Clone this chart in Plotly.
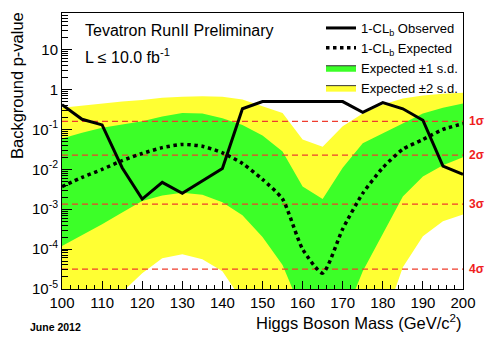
import math
import plotly.graph_objects as go

# Higgs mass points (GeV/c^2)
mass = [100, 105, 110, 115, 120, 125, 130, 135, 140, 145, 150,
        155, 160, 165, 170, 175, 180, 185, 190, 195, 200]

# 1-CLb observed
obs_p = [0.42, 0.18, 0.13, 0.011, 0.0018, 0.0047, 0.0025, 0.005, 0.0105, 0.33, 0.5,
         0.5, 0.5, 0.5, 0.5, 0.27, 0.47, 0.33, 0.17, 0.012, 0.0075]

# 1-CLb expected (median)
exp_p = [3.7e-3, 6.3e-3, 1.0e-2, 1.66e-2, 2.5e-2, 3.5e-2, 4.2e-2, 3.8e-2, 2.6e-2, 1.4e-2, 5.6e-3,
         1.8e-3, 1.0e-4, 2.5e-5, 3.2e-4, 2.5e-3, 1.1e-2, 3.2e-2, 5.6e-2, 0.1, 0.14]

# expected +-1 s.d. band
band1_hi = [0.059, 0.083, 0.11, 0.13, 0.16, 0.21, 0.26, 0.25, 0.19, 0.13, 0.071,
            0.028, 3.7e-3, 1.8e-3, 0.011, 0.045, 0.079, 0.14, 0.25, 0.35, 0.45]
band1_lo = [1.2e-4, 2.2e-4, 4.2e-4, 8.3e-4, 1.6e-3, 2.2e-3, 2.6e-3, 2.3e-3, 1.5e-3, 7.1e-4, 2.0e-4,
            4.0e-5, 2.5e-6, 3e-7, 1.6e-6, 2.8e-5, 2.5e-4, 2.1e-3, 6.6e-3, 0.0126, 0.02]

# expected +-2 s.d. band
band2_hi = [0.35, 0.4, 0.45, 0.5, 0.55, 0.62, 0.66, 0.68, 0.66, 0.56, 0.38,
            0.26, 0.056, 0.037, 0.12, 0.25, 0.42, 0.6, 0.71, 0.79, 0.83]
band2_lo = [1e-6, 1.6e-6, 3.2e-6, 8.3e-6, 2.5e-5, 5.9e-5, 7.4e-5, 5.6e-5, 2.8e-5, 5e-6, 3e-7,
            3e-7, 3e-7, 3e-7, 3e-7, 3e-7, 1.3e-6, 3.5e-5, 2.1e-4, 5e-4, 7.4e-4]

# one-sided gaussian significance levels
sigma_labels = ["1\u03c3", "2\u03c3", "3\u03c3", "4\u03c3"]
sigma_p = [0.1587, 0.02275, 0.00135, 3.167e-5]

YELLOW = "rgb(255,255,51)"
GREEN = "rgb(60,255,40)"
FONT = "Liberation Sans, Arial, sans-serif"

fig = go.Figure()

# +-2 s.d. band
fig.add_trace(go.Scatter(x=mass, y=band2_lo, mode="lines", line=dict(width=0),
                         showlegend=False, hoverinfo="skip"))
fig.add_trace(go.Scatter(x=mass, y=band2_hi, mode="lines", line=dict(width=0),
                         fill="tonexty", fillcolor=YELLOW, showlegend=False))
# +-1 s.d. band
fig.add_trace(go.Scatter(x=mass, y=band1_lo, mode="lines", line=dict(width=0),
                         showlegend=False, hoverinfo="skip"))
fig.add_trace(go.Scatter(x=mass, y=band1_hi, mode="lines", line=dict(width=0),
                         fill="tonexty", fillcolor=GREEN, showlegend=False))

# significance reference lines
for p in sigma_p:
    fig.add_trace(go.Scatter(x=[mass[0], mass[-1]], y=[p, p], mode="lines",
                             line=dict(color="rgb(240,60,45)", width=1.2, dash="6px,4px"),
                             showlegend=False, hoverinfo="skip"))

fig.add_trace(go.Scatter(x=mass, y=exp_p, mode="lines", name="1-CL<sub>b</sub> Expected",
                         line=dict(color="black", width=3.5, dash="dot", shape="spline", smoothing=0.6),
                         legendrank=2))
fig.add_trace(go.Scatter(x=mass, y=obs_p, mode="lines", name="1-CL<sub>b</sub> Observed",
                         line=dict(color="black", width=3), legendrank=1))

# legend swatches for the bands
fig.add_trace(go.Scatter(x=[None], y=[None], mode="lines", fill="toself", fillcolor=GREEN,
                         line=dict(color="#333", width=1), name="Expected \u00b11 s.d.", legendrank=3))
fig.add_trace(go.Scatter(x=[None], y=[None], mode="lines", fill="toself", fillcolor=YELLOW,
                         line=dict(color="#333", width=1), name="Expected \u00b12 s.d.", legendrank=4))

yvals = [1e-5, 1e-4, 1e-3, 1e-2, 1e-1, 1, 10]
ytext = ["10<sup>-5</sup>", "10<sup>-4</sup>", "10<sup>-3</sup>", "10<sup>-2</sup>",
         "10<sup>-1</sup>", "1", "10"]

fig.update_layout(
    width=500, height=342,
    margin=dict(l=62, r=37, t=13, b=53),
    paper_bgcolor="white", plot_bgcolor="white",
    font=dict(family=FONT, color="black", size=15),
    showlegend=True,
    legend=dict(x=1, y=1.0, xanchor="right", yanchor="top", bgcolor="rgba(255,255,255,0)",
                font=dict(size=13), tracegroupgap=0, itemwidth=30,
                traceorder="normal"),
    xaxis=dict(range=[100, 200], showgrid=False, zeroline=False,
               showline=True, linecolor="black", linewidth=1, mirror=True,
               ticks="inside", ticklen=8, tickcolor="black", dtick=10, tick0=100,
               minor=dict(ticks="inside", ticklen=4, dtick=2, tickcolor="black"),
               tickfont=dict(size=15)),
    yaxis=dict(type="log", range=[-5, 1.92], showgrid=False, zeroline=False,
               showline=True, linecolor="black", linewidth=1, mirror=True,
               ticks="inside", ticklen=10, tickcolor="black",
               tickvals=yvals, ticktext=ytext,
               minor=dict(ticks="inside", ticklen=6, dtick="D1", tickcolor="black"),
               tickfont=dict(size=15)),
)

ann = [
    dict(text="Tevatron RunII Preliminary", x=83, y=30, font=dict(size=16)),
    dict(text="L \u2264 10.0 fb<sup>-1</sup>", x=83, y=56, font=dict(size=16)),
]
for a in ann:
    fig.add_annotation(text=a["text"], xref="paper", yref="paper",
                       x=(a["x"] - 62) / 401, y=(289 - a["y"]) / 276,
                       xanchor="left", yanchor="middle", showarrow=False, font=a["font"])

fig.add_annotation(text="Higgs Boson Mass (GeV/c<sup>2</sup>)", xref="paper", yref="paper",
                   x=1.0, y=(289 - 322) / 276, xanchor="right", yanchor="middle",
                   showarrow=False, font=dict(size=16.5))
fig.add_annotation(text="Background p-value", xref="paper", yref="paper",
                   x=(17 - 62) / 401, y=(289 - 86) / 276, xanchor="center", yanchor="middle",
                   textangle=-90, showarrow=False, font=dict(size=16.5))
fig.add_annotation(text="<b>June 2012</b>", xref="paper", yref="paper",
                   x=(28 - 62) / 401, y=(289 - 327) / 276, xanchor="left", yanchor="middle",
                   showarrow=False, font=dict(size=10.5))

# annotations on a log axis take log10 positions
for lab, p in zip(sigma_labels, sigma_p):
    fig.add_annotation(text="<b>" + lab + "</b>", xref="paper", yref="y", x=1, y=math.log10(p),
                       xanchor="left", yanchor="middle", xshift=4, showarrow=False,
                       font=dict(size=12, color="rgb(240,30,30)"))

fig.write_html("out.html")
